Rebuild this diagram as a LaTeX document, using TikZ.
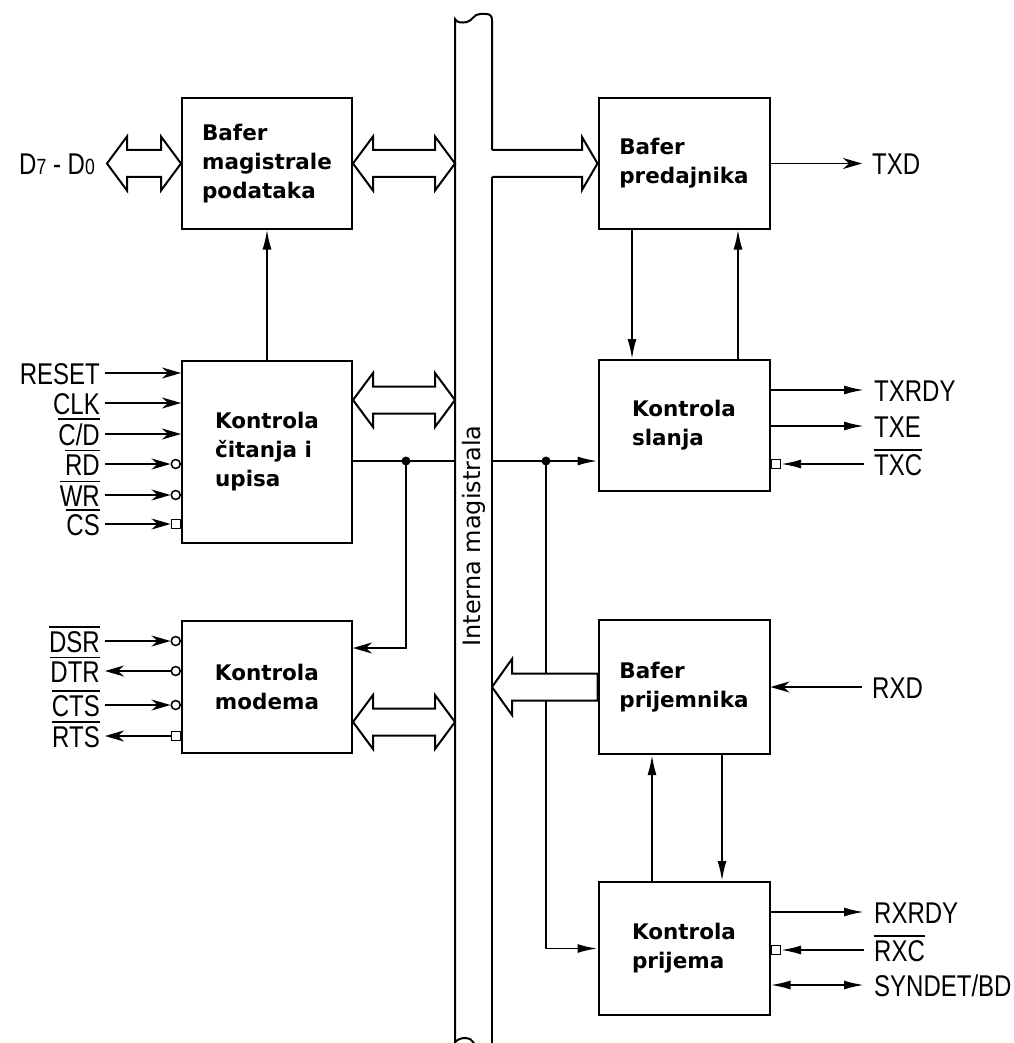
\documentclass[tikz,border=0pt]{standalone}
\usepackage{fontspec}
\usepackage{tikz}
\usetikzlibrary{arrows.meta,calc,positioning}

\newfontfamily\dejavu{DejaVu Sans}
\newfontfamily\sigfam[FakeStretch=0.8]{Liberation Sans}
\newcommand{\blokfont}{\dejavu\bfseries\fontsize{21.5}{29}\selectfont}
\newcommand{\sigfont}{\sigfam\fontsize{30}{30}\selectfont}
\newcommand{\natpisfont}{\dejavu\fontsize{24}{24}\selectfont}
% negirani signal (crta iznad)
\newcommand{\negacija}[1]{\leavevmode\vbox{\hrule height 1.8pt\kern 3pt\hbox{#1}}}
\newcommand{\indeks}[1]{{\fontsize{22}{22}\selectfont #1}}
% siroka dvostruka strelica od #1 (lijevo) do #2 (desno)
\newcommand{\dvostruka}[2]{%
  \draw[sirok] (#1) -- ++(20,-27) -- ++(0,13.5) -- ($(#2)+(-20,-13.5)$) -- ++(0,-13.5)
    -- (#2) -- ++(-20,27) -- ++(0,-13.5) -- ($(#1)+(20,13.5)$) -- ++(0,13.5) -- cycle;}

\begin{document}
\begin{tikzpicture}[x=1pt, y=-1pt,
  blok/.style={draw, line width=2pt, minimum width=170pt, inner sep=0pt, align=left, font=\blokfont},
  veza/.style={line width=1.9pt},
  sigl/.style={font=\sigfont, anchor=east, inner xsep=5pt, inner ysep=0pt, text height=22pt, text depth=0pt},
  sigr/.style={font=\sigfont, anchor=west, inner xsep=10pt, inner ysep=0pt, text height=22pt, text depth=0pt},
  ulaz/.style={veza, -{Stealth[length=19pt,width=11pt,inset=6pt]}},
  izlaz/.style={veza, -{Latex[length=20pt,width=9pt]}},
  krug/.style={draw, circle, fill=white, inner sep=0pt, minimum size=9pt, line width=1.5pt},
  kvad/.style={draw, rectangle, fill=white, inner sep=0pt, minimum size=9pt, line width=1.5pt},
  tacka/.style={circle, fill=black, inner sep=0pt, minimum size=9pt},
  sirok/.style={draw, fill=white, line width=2pt, line join=miter}]

\useasboundingbox (0,0) rectangle (1013,1043);

% blokovi
\node[blok, minimum height=130pt] (bm) at (267,163.5) {Bafer\\magistrale\\podataka};
\node[blok, minimum height=182pt] (kc) at (267,451.5) {Kontrola\\čitanja i\\upisa};
\node[blok, minimum height=132pt] (km) at (267,686.5) {Kontrola\\modema};
\node[blok, minimum width=171pt, minimum height=130pt] (bp) at (684,163.5) {Bafer\\predajnika};
\node[blok, minimum width=171pt, minimum height=131pt] (ks) at (684,425.5) {Kontrola\\slanja};
\node[blok, minimum width=171pt, minimum height=134pt] (br) at (684,687) {Bafer\\prijemnika};
\node[blok, minimum width=171pt, minimum height=133pt] (kp) at (684,948.5) {Kontrola\\prijema};

% interna magistrala
\coordinate (busL) at (455,0);
\coordinate (busR) at (492,0);
\draw[sirok, fill=none] (455,1043) -- (455,19) .. controls (457,23) and (462,23) .. (467,22)
  .. controls (472,21) and (474,14) .. (480,14) -- (486,14) .. controls (490,14) and (492,16) .. (492,20) -- (492,150);
\draw[sirok, fill=none] (492,177) -- (492,1043);
\draw[sirok, fill=none] (455,1042) .. controls (459,1038) and (465,1037) .. (470,1039) -- (474,1043);
\node[rotate=90, font=\natpisfont] (natpis) at (474,536) {Interna magistrala};

% magistrala -> bafer predajnika
\draw[sirok, fill=none] (492,150) -- (582,150) -- (582,137) -- (bp.west) -- (582,190) -- (582,177) -- (492,177);

% siroke strelice lijevo
\node[sigl, inner xsep=12pt] (data) at (107,163.5) {D\indeks{7} - D\indeks{0}};
\coordinate (d1) at (data.east -| bm.west);
\dvostruka{data.east}{d1}
\coordinate (bm1) at (bm.east -| busL);
\dvostruka{bm.east}{bm1}
\coordinate (kc0) at ($(kc.north east)+(0,40.5)$);
\coordinate (kc1) at (kc0 -| busL);
\dvostruka{kc0}{kc1}
\coordinate (km0) at ($(km.north east)+(0,102.5)$);
\coordinate (km1) at (km0 -| busL);
\dvostruka{km0}{km1}

% kontrola citanja -> bafer magistrale
\draw[izlaz] (kc.north) -- (bm.south);

% ulazi kontrole citanja i upisa
\node[sigl] (reset) at (105,373) {RESET};
\node[sigl] (clk) at (105,403) {CLK};
\node[sigl] (cd) at (105,434) {\negacija{C/D}};
\node[sigl] (rd) at (105,464) {\negacija{RD}};
\node[sigl] (wr) at (105,495) {\negacija{WR}};
\node[sigl] (cs) at (105,524) {\negacija{CS}};
\node[krug, anchor=east] (rdb) at (kc.west |- rd.east) {};
\node[krug, anchor=east] (wrb) at (kc.west |- wr.east) {};
\node[kvad, anchor=east] (csb) at (kc.west |- cs.east) {};
\draw[ulaz] (reset.east) -- (reset.east -| kc.west);
\draw[ulaz] (clk.east) -- (clk.east -| kc.west);
\draw[ulaz] (cd.east) -- (cd.east -| kc.west);
\draw[ulaz] (rd.east) -- (rdb.west);
\draw[ulaz] (wr.east) -- (wrb.west);
\draw[ulaz] (cs.east) -- (csb.west);

% signali modema
\node[sigl] (dsr) at (105,641) {\negacija{DSR}};
\node[sigl] (dtr) at (105,671) {\negacija{DTR}};
\node[sigl] (cts) at (105,705) {\negacija{CTS}};
\node[sigl] (rts) at (105,736) {\negacija{RTS}};
\node[krug, anchor=east] (dsrb) at (km.west |- dsr.east) {};
\node[krug, anchor=east] (dtrb) at (km.west |- dtr.east) {};
\node[krug, anchor=east] (ctsb) at (km.west |- cts.east) {};
\node[kvad, anchor=east] (rtsb) at (km.west |- rts.east) {};
\draw[ulaz] (dsr.east) -- (dsrb.west);
\draw[ulaz] (dtrb.west) -- (dtr.east);
\draw[ulaz] (cts.east) -- (ctsb.west);
\draw[ulaz] (rtsb.west) -- (rts.east);

% unutrasnje veze lijevo
\node[tacka] (j1) at (406,461) {};
\draw[veza] (kc.east |- j1) -- (j1 -| busL);
\draw[ulaz] (j1.center) |- ($(km.north east)+(0,28.5)$);

% unutrasnje veze desno
\node[tacka] (j2) at (546,461) {};
\draw[izlaz] (busR |- j2) -- (j2 -| ks.west);
\draw[izlaz] (j2.center) |- (kp.west);

% bafer prijemnika -> magistrala
\draw[sirok] (br.west) -- ++(0,-13.5) -- (512,673.5) -- (512,659) -- (br.west -| busR)
  -- (512,715) -- (512,700.5) -- ($(br.west)+(0,13.5)$) -- cycle;

% predajnik <-> kontrola slanja
\coordinate (p1) at ($(bp.south west)+(34.5,0)$);
\coordinate (p2) at ($(ks.north west)+(140.5,0)$);
\draw[izlaz] (p1) -- (p1 |- ks.north);
\draw[izlaz] (p2) -- (p2 |- bp.south);

% prijemnik <-> kontrola prijema
\coordinate (q1) at ($(kp.north west)+(54.5,0)$);
\coordinate (q2) at ($(br.south west)+(124.5,0)$);
\draw[izlaz] (q1) -- (q1 |- br.south);
\draw[izlaz] (q2) -- (q2 |- kp.north);

% signali desno
\node[sigr] (txd) at (862,163.5) {TXD};
\draw[ulaz] (bp.east) -- (txd.west);
\node[sigr] (txrdy) at (864,390) {TXRDY};
\node[sigr] (txe) at (864,426) {TXE};
\node[sigr] (txc) at (864,464) {\negacija{TXC}};
\node[kvad, anchor=west] (txcb) at (ks.east |- txc.west) {};
\draw[izlaz] (txrdy.west -| ks.east) -- (txrdy.west);
\draw[izlaz] (txe.west -| ks.east) -- (txe.west);
\draw[izlaz] (txc.west) -- (txcb.east);

\node[sigr] (rxd) at (862,687) {RXD};
\draw[ulaz] (rxd.west) -- (br.east);

\node[sigr] (rxrdy) at (864,912) {RXRDY};
\node[sigr] (rxc) at (864,950) {\negacija{RXC}};
\node[sigr] (syn) at (864,985) {SYNDET/BD};
\node[kvad, anchor=west] (rxcb) at (kp.east |- rxc.west) {};
\draw[izlaz] (rxrdy.west -| kp.east) -- (rxrdy.west);
\draw[izlaz] (rxc.west) -- (rxcb.east);
\draw[veza, {Latex[length=20pt,width=9pt]}-{Latex[length=20pt,width=9pt]}] (syn.west -| kp.east) -- (syn.west);

\end{tikzpicture}
\end{document}
